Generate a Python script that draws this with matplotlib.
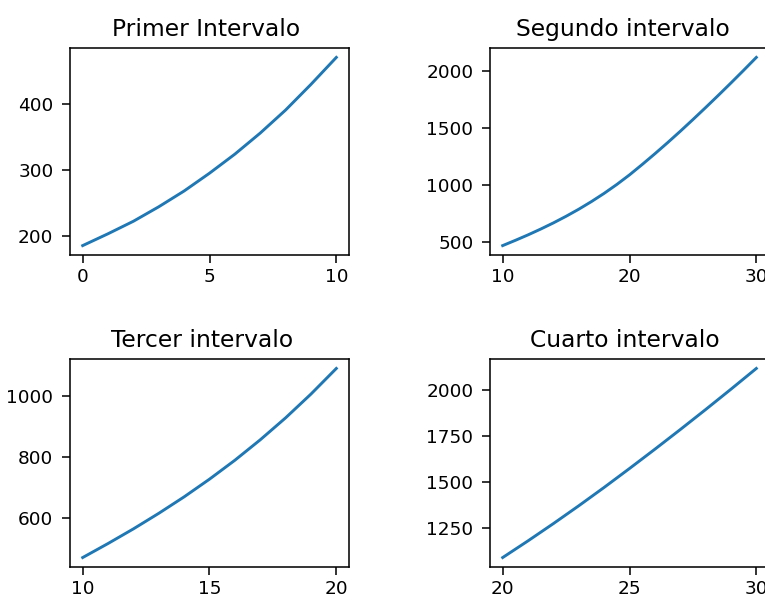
import matplotlib
matplotlib.use("Agg")
import matplotlib.pyplot as plt

# values
x1 = [0, 1, 2, 3, 4, 5, 6, 7, 8, 9, 10]
y1 = [185, 203, 222, 244, 268, 295, 324, 356, 391, 430, 471]

x3 = [10, 11, 12, 13, 14, 15, 16, 17, 18, 19, 20]
y3 = [470, 516, 564, 615, 669, 727, 789, 856, 928, 1006, 1090]

x4 = [20, 21, 22, 23, 24, 25, 26, 27, 28, 29, 30]
y4 = [1090, 1181, 1275, 1372, 1472, 1575, 1680, 1787, 1896, 2007, 2120]

x2 = list(range(10, 31))
y2 = [470, 516, 564, 615, 669, 727, 789, 856, 928, 1006, 1090,
      1181, 1275, 1372, 1472, 1575, 1680, 1787, 1896, 2007, 2120]

titles = ["Primer Intervalo", "Segundo intervalo", "Tercer intervalo", "Cuarto intervalo"]
xticks = [[0, 5, 10], [10, 20, 30], [10, 15, 20], [20, 25, 30]]
yticks = [[200, 300, 400], [500, 1000, 1500, 2000], [600, 800, 1000],
          [1250, 1500, 1750, 2000]]

W, H, DPI = 765, 599, 140
fig = plt.figure(figsize=(W / DPI, H / DPI), dpi=DPI)

# axes boxes in pixels: left, top, width, height
boxes = [(70, 48, 279, 207), (490, 48, 279, 207),
         (70, 359, 279, 208), (490, 359, 279, 208)]
# titles sit a few pixels left of the axes centre in the reference
title_shift = [-3, -7, -7, -4.5]
data = [(x1, y1), (x2, y2), (x3, y3), (x4, y4)]

for (l, t, w, h), (xs, ys), title, xt, yt, dx in zip(
        boxes, data, titles, xticks, yticks, title_shift):
    ax = fig.add_axes([l / W, (H - t - h) / H, w / W, h / H])
    ax.plot(xs, ys)
    ax.set_xticks(xt)
    ax.set_yticks(yt)
    ax.tick_params(labelsize=9.5, length=4)
    ax.tick_params(axis="x", pad=2.5)
    ax.tick_params(axis="y", pad=4.5)
    ax.set_title(title, x=0.5 + dx / w)

fig.savefig("out.png", dpi=DPI)
